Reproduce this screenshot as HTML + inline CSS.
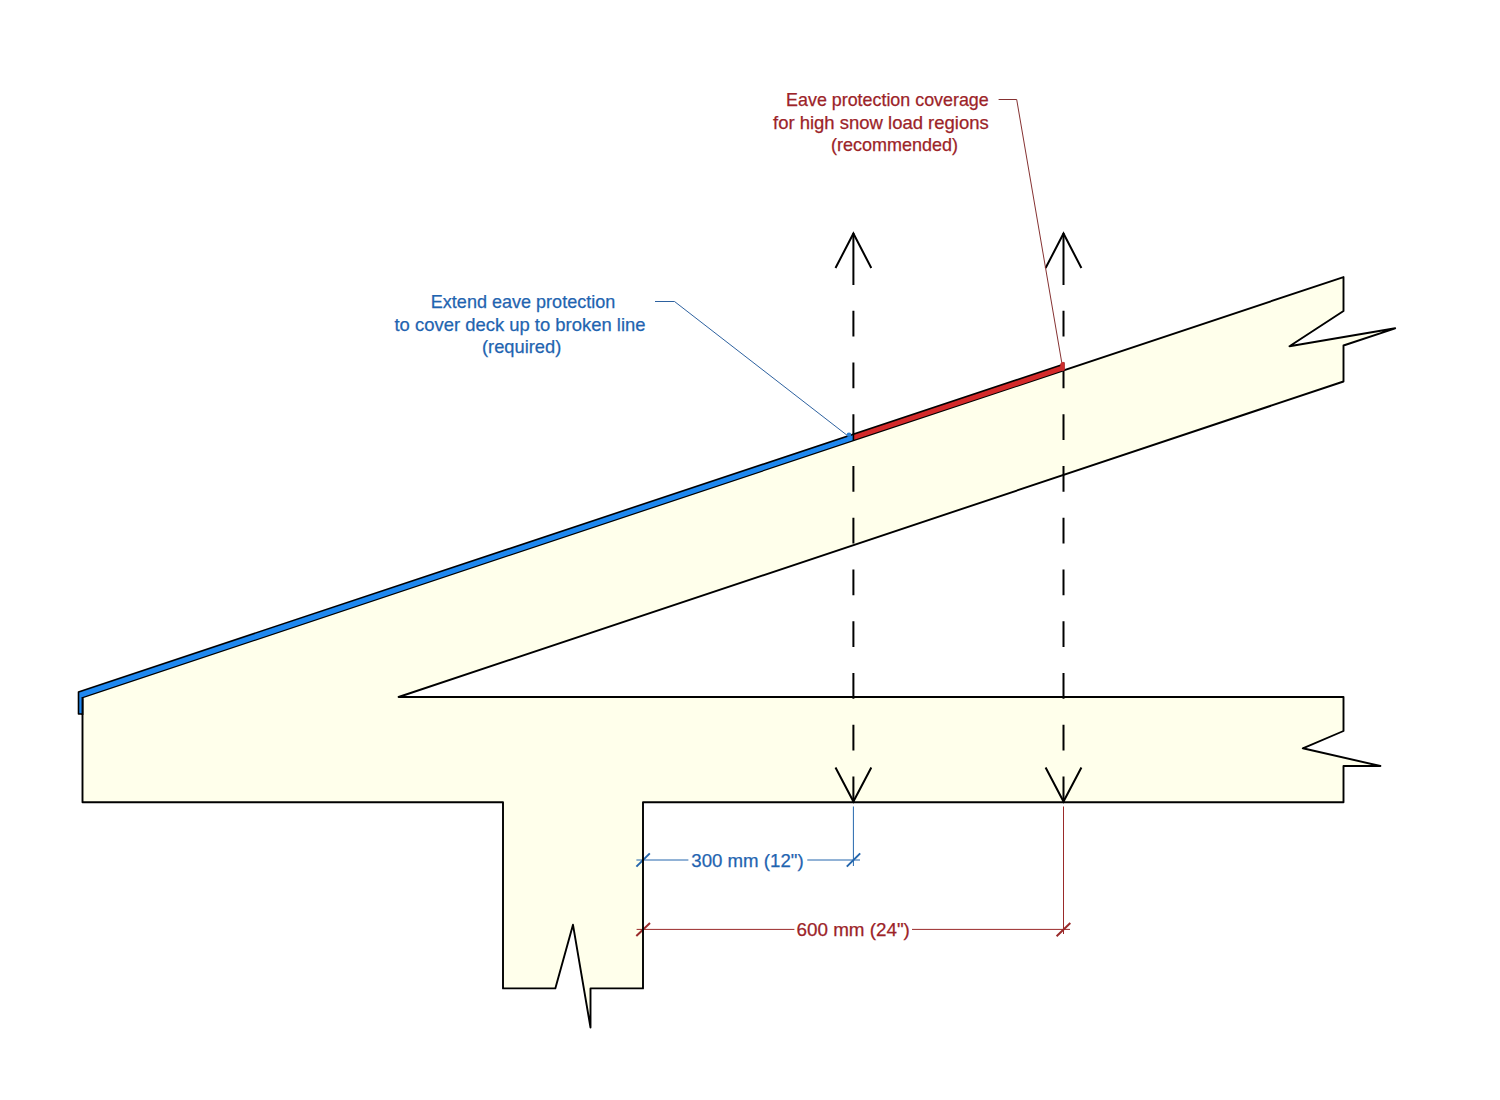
<!DOCTYPE html>
<html>
<head>
<meta charset="utf-8">
<style>
html,body{margin:0;padding:0;background:#fff;width:1500px;height:1100px;overflow:hidden;}
svg{position:absolute;left:0;top:0;display:block;}
text{font-family:"Liberation Sans",sans-serif;font-size:18.5px;}
</style>
</head>
<body>
<svg width="1500" height="1100" viewBox="0 0 1500 1100">
<defs>
<path id="body" d="M82.5 697.3 L1343.5 277.1 L1343.5 311 L1289.5 346.3 L1395.2 328.3 L1343.5 345.5 L1343.5 381.5 L398.6 697 L1343.5 697 L1343.5 731 L1302.8 748.3 L1380.4 766 L1343.5 766 L1343.5 802.3 L643 802.3 L643 988.4 L590.5 988.4 L590.5 1027.6 L573 924.8 L555.3 988.4 L503 988.4 L503 802.3 L82.5 802.3 Z"/>
</defs>
<!-- main cream body fill -->
<use href="#body" fill="#ffffeb" stroke="none"/>

<!-- blue dimension -->
<g stroke="#2466ad" fill="none">
  <line x1="853.4" y1="806.5" x2="853.4" y2="866" stroke-width="1"/>
  <line x1="636.4" y1="860" x2="688.4" y2="860" stroke-width="1"/>
  <line x1="807.3" y1="860" x2="860" y2="860" stroke-width="1"/>
  <line x1="636.4" y1="866.6" x2="649.8" y2="853.4" stroke-width="2"/>
  <line x1="846.8" y1="866.6" x2="860.2" y2="853.4" stroke-width="2"/>
</g>
<!-- red dimension -->
<g stroke="#9a2a2a" fill="none">
  <line x1="1063.5" y1="806.5" x2="1063.5" y2="934" stroke-width="1"/>
  <line x1="636.6" y1="929.4" x2="794.4" y2="929.4" stroke-width="1"/>
  <line x1="912" y1="929.4" x2="1070" y2="929.4" stroke-width="1"/>
  <line x1="636.3" y1="936" x2="650" y2="923" stroke-width="2"/>
  <line x1="1056.6" y1="936.2" x2="1070.3" y2="923" stroke-width="2"/>
</g>

<!-- main body stroke -->
<use href="#body" fill="none" stroke="#000" stroke-width="1.9" stroke-linejoin="round"/>

<!-- dashed lines -->
<g stroke="#000" stroke-width="2" fill="none">
  <line x1="853.4" y1="233" x2="853.4" y2="285"/>
  <line x1="1063.5" y1="233" x2="1063.5" y2="285"/>
  <line x1="853.4" y1="802.3" x2="853.4" y2="309" stroke-dasharray="25.9 25.85"/>
  <line x1="1063.5" y1="802.3" x2="1063.5" y2="309" stroke-dasharray="25.9 25.85"/>
  <polyline points="835.5,268 853.4,233.5 871.3,268"/>
  <polyline points="1045.6,268 1063.5,233.5 1081.4,268"/>
  <polyline points="835.5,767.5 853.4,801.5 871.3,767.5"/>
  <polyline points="1045.6,767.5 1063.5,801.5 1081.4,767.5"/>
</g>

<!-- eave strips -->
<path d="M78.5 714 L78.5 691.9 L853.4 434.3 L853.4 440.1 L82.5 697.1 L82.5 714 Z" fill="#1e88f0"/>
<path d="M853.4 434.3 L1063.5 364.3 L1064.3 364.3 L1064.3 370.1 L853.4 440.1 Z" fill="#d42a2a"/>
<polyline points="82.5,714 78.5,714 78.5,691.9 1063.5,364.3" fill="none" stroke="#000" stroke-width="1.6" stroke-linejoin="round"/>
<line x1="853.4" y1="434" x2="853.4" y2="441" stroke="#000" stroke-width="1.6"/>
<line x1="82.5" y1="697" x2="82.5" y2="715" stroke="#000" stroke-width="1.9"/>

<!-- blue leader -->
<polyline points="655,301.5 674.5,301.5 848,436" fill="none" stroke="#22589a" stroke-width="0.95"/>
<circle cx="849" cy="434.8" r="2.3" fill="#2a7fd0"/>
<!-- red leader -->
<polyline points="998.6,99.5 1016.7,99.5 1062,364" fill="none" stroke="#7e2626" stroke-width="0.95"/>
<path d="M1060.3 363.5 L1063 361.8 L1064.6 362.6 L1064.6 370.5 L1060.3 371 Z" fill="#cc2e2e"/>

<!-- texts -->
<g fill="#1f64b0" stroke="#1f64b0" stroke-width="0.25">
  <text x="430.8" y="308" textLength="184.5" lengthAdjust="spacingAndGlyphs">Extend eave protection</text>
  <text x="394.5" y="330.5" textLength="251" lengthAdjust="spacingAndGlyphs">to cover deck up to broken line</text>
  <text x="482" y="353" textLength="79.3" lengthAdjust="spacingAndGlyphs">(required)</text>
  <text x="691.3" y="867" textLength="112.3" lengthAdjust="spacingAndGlyphs" style="font-size:19px">300 mm (12")</text>
</g>
<g fill="#9c2328" stroke="#9c2328" stroke-width="0.25">
  <text x="786.1" y="106" textLength="202.6" lengthAdjust="spacingAndGlyphs">Eave protection coverage</text>
  <text x="773" y="128.5" textLength="215.7" lengthAdjust="spacingAndGlyphs">for high snow load regions</text>
  <text x="831" y="150.5" textLength="127" lengthAdjust="spacingAndGlyphs">(recommended)</text>
  <text x="796.5" y="936.3" textLength="113.4" lengthAdjust="spacingAndGlyphs" style="font-size:19px">600 mm (24")</text>
</g>
</svg>
</body>
</html>
